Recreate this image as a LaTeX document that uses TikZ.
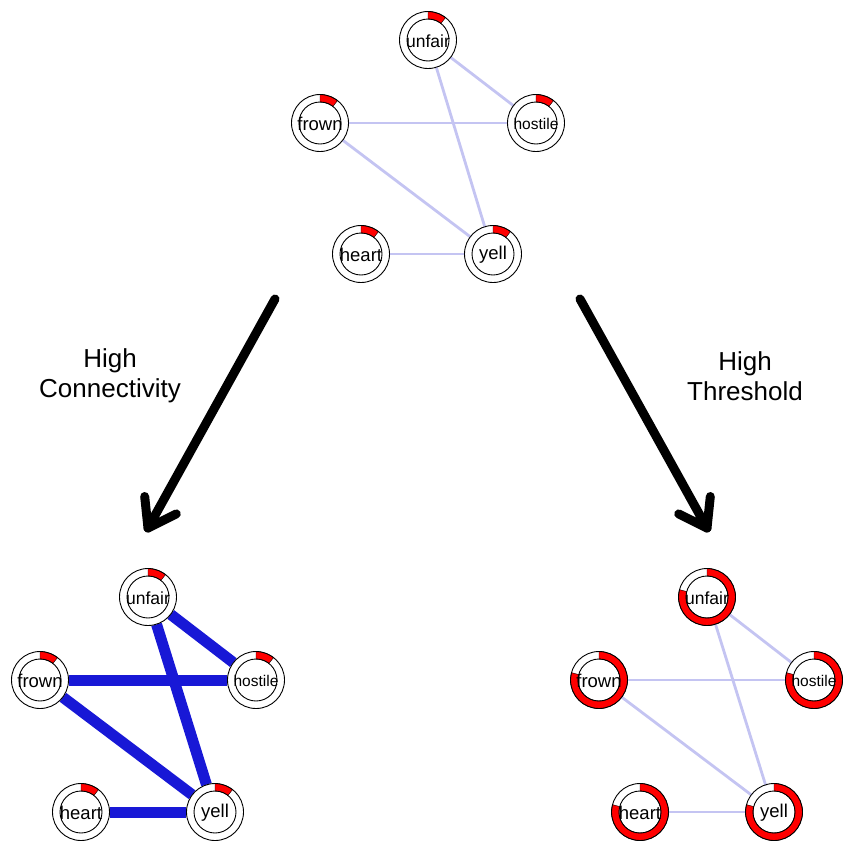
\documentclass[tikz,border=0pt]{standalone}
\usepackage{fontspec}
\setmainfont{Liberation Sans}
\usetikzlibrary{backgrounds}
\definecolor{lightedge}{RGB}{196,196,242}
\definecolor{thickedge}{RGB}{24,24,214}
\definecolor{pie}{RGB}{255,0,0}
\tikzset{
  qn/.style={circle,minimum size=57pt,inner sep=0pt,fill=white},
  lbl/.style={inner sep=0pt,text=black},
  lightline/.style={draw=lightedge,line width=2.8pt},
  thickline/.style={draw=thickedge,line width=11pt},
  bigarrow/.style={draw=black,line width=9pt,line cap=round,line join=round},
  caption/.style={align=center,font=\fontsize{26}{30}\selectfont}
}
\newcommand\qring[2]{%
  \path[fill=pie,draw=black,line width=0.4pt] (#1.center) ++(90:28.5) arc[start angle=90,end angle=#2,radius=28.5] -- ++(#2:-7.5) arc[start angle=#2,end angle=90,radius=21] -- cycle;
  \draw[line width=0.9pt] (#1.center) circle[radius=28.5];
  \draw[line width=0.9pt] (#1.center) circle[radius=21];
}
\newcommand\qnode[6]{%
  \node[qn] (#1) at (#2,-#3) {};
  \qring{#1}{#6}
  \node[lbl,font=\fontsize{#5}{#5}\selectfont] (#1-l) at ([yshift=-1pt]#1.center) {#4};
}
\begin{document}
\begin{tikzpicture}[x=1pt,y=1pt]
\useasboundingbox (0,0) rectangle (845,-841);
% top network
\qnode{tu}{428}{40}{unfair}{17.5}{52}
\qnode{tf}{320}{123}{frown}{18.5}{52}
\qnode{th}{536}{123}{hostile}{15.5}{52}
\qnode{the}{361}{254}{heart}{18.5}{52}
\qnode{ty}{493}{254}{yell}{18.5}{52}
% bottom-left network
\qnode{lu}{148}{597}{unfair}{17.5}{52}
\qnode{lf}{40}{680}{frown}{18.5}{52}
\qnode{lh}{256}{680}{hostile}{15.5}{52}
\qnode{lhe}{81}{812}{heart}{18.5}{52}
\qnode{ly}{215}{812}{yell}{18.5}{52}
% bottom-right network
\qnode{ru}{707}{597}{unfair}{17.5}{-195}
\qnode{rf}{599}{680}{frown}{18.5}{-195}
\qnode{rh}{814}{680}{hostile}{15.5}{-195}
\qnode{rhe}{640}{812}{heart}{18.5}{-195}
\qnode{ry}{774}{812}{yell}{18.5}{-195}
\begin{scope}[on background layer]
  \draw[lightline] (tu) -- (th);
  \draw[lightline] (tu) -- (ty);
  \draw[lightline] (tf) -- (th);
  \draw[lightline] (tf) -- (ty);
  \draw[lightline] (the) -- (ty);
  \draw[thickline] (lu) -- (lh);
  \draw[thickline] (lu) -- (ly);
  \draw[thickline] (lf) -- (lh);
  \draw[thickline] (lf) -- (ly);
  \draw[thickline] (lhe) -- (ly);
  \draw[lightline] (ru) -- (rh);
  \draw[lightline] (ru) -- (ry);
  \draw[lightline] (rf) -- (rh);
  \draw[lightline] (rf) -- (ry);
  \draw[lightline] (rhe) -- (ry);
\end{scope}
% arrows
\coordinate (las) at (275,-299);
\coordinate (lat) at (148,-528);
\coordinate (law1) at (144.7,-496.5);
\coordinate (law2) at (176.3,-513.9);
\coordinate (ras) at (580,-299);
\coordinate (rat) at (707,-528);
\coordinate (raw1) at (710.3,-496.5);
\coordinate (raw2) at (678.7,-513.9);
\draw[bigarrow] (las) -- (lat);
\draw[bigarrow] (law1) -- (lat) -- (law2);
\draw[bigarrow] (ras) -- (rat);
\draw[bigarrow] (raw1) -- (rat) -- (raw2);
% captions
\node[caption] (capl) at (110,-376) {High\\Connectivity};
\node[caption] (capr) at (745,-376) {High\\Threshold};
\end{tikzpicture}
\end{document}
